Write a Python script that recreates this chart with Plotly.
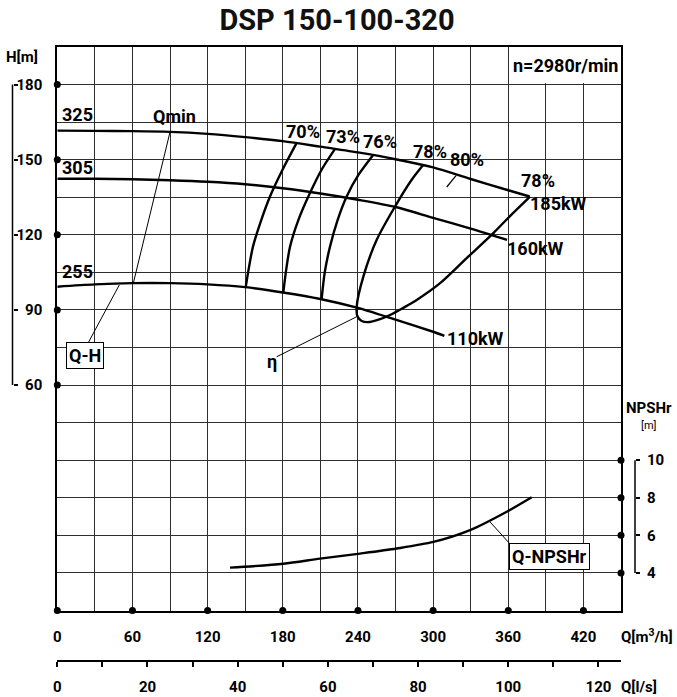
import plotly.graph_objects as go

# ---------------- data ----------------
# Q-H curves for impeller diameters 325 / 305 / 255 mm  (Q in m3/h, H in m)
q_325 = [0, 30, 60, 90, 120, 150, 180, 210, 240, 270, 300, 330, 360, 377]
h_325 = [161.6, 161.5, 161.4, 161.1, 160.3, 159.0, 157.4, 155.2, 152.9, 150.2, 146.9, 142.3, 137.8, 135.3]
q_305 = [0, 30, 60, 90, 120, 150, 180, 210, 240, 270, 300, 330, 359]
h_305 = [142.4, 142.4, 142.2, 141.8, 141.2, 140.2, 138.6, 136.5, 134.0, 131.1, 126.8, 122.5, 118.0]
q_255 = [0, 30, 60, 90, 120, 150, 180, 210, 240, 270, 300, 309]
h_255 = [99.3, 100.2, 100.7, 100.7, 100.2, 99.1, 97.0, 94.4, 90.8, 86.1, 81.3, 79.7]

# iso-efficiency curves
q_eff70 = [150.4, 153, 156.2, 162.2, 169.8, 179.8, 191.1]
h_eff70 = [99.1, 107, 115.3, 125, 135.3, 146, 156.7]
q_eff73 = [180.4, 182.7, 185.8, 192.5, 201.7, 211, 221.7]
h_eff73 = [96.9, 106, 115.3, 126, 136.7, 146, 154.3]
q_eff76 = [211, 213.5, 217.7, 223.5, 231, 240.5, 252.3]
h_eff76 = [94.3, 105, 115.3, 125.5, 135.3, 144, 152]
q_eff78 = [292.2, 282.9, 269.6, 255, 244.3, 239, 239.6, 243, 249.6, 257, 265.6, 276,
           286.9, 305.6, 326.8, 348.1, 363, 377.4]
h_eff78 = [148, 142, 131.3, 118, 103.3, 91.3, 87.5, 85.6, 85.2, 86.2, 88, 90.8,
           94, 100.7, 110.7, 120.7, 128.3, 135.3]
q_eff80 = [310.9, 318.3]
h_eff80 = [139.1, 143.6]

# Q-NPSHr curve
q_npsh = [137.9, 180.4, 209.7, 241.6, 270.9, 300.2, 329.5, 358.8, 378.7]
npsh = [4.28, 4.49, 4.76, 5.03, 5.30, 5.65, 6.28, 7.26, 8.03]

# leader lines
q_lead_qmin, h_lead_qmin = [90, 60.7], [161.1, 100.7]
q_lead_qh, h_lead_qh = [24.7, 49.5], [76.9, 100.0]
q_lead_eta, h_lead_eta = [175.1, 239.0], [71.3, 87.3]
q_lead_npsh, npsh_lead = [345.4, 364.0], [6.72, 5.35]

# axes / ticks
q_range = [0, 450]
h_range = [-30, 195]
npsh_range = [2, 32]
qls_range = [0, 125]
q_ticks = list(range(0, 451, 30))
q_labels = [str(v) if v % 60 == 0 and v <= 420 else "" for v in q_ticks]
h_ticks = list(range(-30, 196, 15))
h_labels = [str(v) if 60 <= v <= 180 and v % 30 == 0 else "" for v in h_ticks]
h_dots = [60, 90, 120, 150, 180]
q_dots = [0, 60, 120, 180, 240, 300, 360, 420]
npsh_ticks = [4, 6, 8, 10]
qls_ticks = list(range(0, 121, 10))
qls_labels = [str(v) if v % 20 == 0 else "" for v in qls_ticks]

# ---------------- layout geometry ----------------
W, H = 677, 697
PX_L, PX_R, PX_T, PX_B = 57.3, 621.0, 47.0, 610.5
xd = [PX_L / W, PX_R / W]
yd = [1 - PX_B / H, 1 - PX_T / H]
X_LEFT_BRACKET = 12.5 / W
X_RIGHT_BRACKET = 635 / W

FONT = "Roboto, Liberation Sans, sans-serif"
BIG = dict(family=FONT, size=18, color="black", weight="bold")
AX = dict(family=FONT, size=15, color="black", weight="bold")
GRID = "#2e2e2e"

fig = go.Figure()

LW = 2.4
for qx, hy in [(q_325, h_325), (q_305, h_305), (q_255, h_255),
               (q_eff70, h_eff70), (q_eff73, h_eff73), (q_eff76, h_eff76),
               (q_eff78, h_eff78)]:
    fig.add_trace(go.Scatter(x=qx, y=hy, mode="lines",
                             line=dict(color="black", width=LW, shape="spline", smoothing=0.8),
                             hoverinfo="skip", showlegend=False))
fig.add_trace(go.Scatter(x=q_eff80, y=h_eff80, mode="lines", line=dict(color="black", width=1.2),
                         showlegend=False, hoverinfo="skip"))
for qx, hy in [(q_lead_qmin, h_lead_qmin), (q_lead_qh, h_lead_qh), (q_lead_eta, h_lead_eta)]:
    fig.add_trace(go.Scatter(x=qx, y=hy, mode="lines", line=dict(color="black", width=1),
                             showlegend=False, hoverinfo="skip"))

fig.add_trace(go.Scatter(x=q_npsh, y=npsh, yaxis="y2", mode="lines",
                         line=dict(color="black", width=LW, shape="spline", smoothing=0.8),
                         showlegend=False, hoverinfo="skip"))
fig.add_trace(go.Scatter(x=q_lead_npsh, y=npsh_lead, yaxis="y2", mode="lines",
                         line=dict(color="black", width=1), showlegend=False, hoverinfo="skip"))

# dots on the frame
fig.add_trace(go.Scatter(x=[q_range[0]] * len(h_dots), y=h_dots, yaxis="y3", mode="markers",
                         marker=dict(color="black", size=7), cliponaxis=False,
                         showlegend=False, hoverinfo="skip"))
fig.add_trace(go.Scatter(x=q_dots, y=[h_range[0]] * len(q_dots), mode="markers",
                         marker=dict(color="black", size=7), cliponaxis=False,
                         showlegend=False, hoverinfo="skip"))
fig.add_trace(go.Scatter(x=[q_range[1]] * len(npsh_ticks), y=npsh_ticks, yaxis="y2", mode="markers",
                         marker=dict(color="black", size=7), cliponaxis=False,
                         showlegend=False, hoverinfo="skip"))
# empty trace that registers the l/s axis
fig.add_trace(go.Scatter(x=[None], y=[None], xaxis="x2", mode="markers",
                         showlegend=False, hoverinfo="skip"))

fig.update_layout(
    width=W, height=H,
    margin=dict(l=0, r=0, t=0, b=0, pad=0, autoexpand=False),
    paper_bgcolor="white", plot_bgcolor="white",
    showlegend=False,
    title=dict(text="DSP 150-100-320", x=337 / W, xanchor="center", y=1 - 20 / H, yanchor="middle",
               font=dict(family="Roboto, DejaVu Sans, sans-serif", size=29, color="#111", weight="bold")),
    xaxis=dict(domain=xd, range=q_range, tickvals=q_ticks, ticktext=q_labels, ticks="",
               showgrid=True, gridcolor=GRID, gridwidth=1, zeroline=False,
               showline=True, linecolor="black", linewidth=2, mirror=True, automargin=False,
               tickfont=AX, ticklabelstandoff=11, fixedrange=True),
    yaxis=dict(domain=yd, range=h_range, tickvals=h_ticks, ticktext=h_labels, ticks="",
               showgrid=True, gridcolor=GRID, gridwidth=1, zeroline=False,
               showline=True, linecolor="black", linewidth=2, mirror=True, automargin=False,
               tickfont=AX, ticklabelstandoff=10, fixedrange=True),
    # NPSH axis: its ticks/labels sit beside the right bracket
    yaxis2=dict(overlaying="y", range=npsh_range, side="right", anchor="free",
                position=X_RIGHT_BRACKET, showgrid=False, zeroline=False, showline=False,
                ticks="outside", ticklen=4, tickwidth=1.5, tickcolor="black",
                tickvals=npsh_ticks, tickfont=AX, ticklabelstandoff=4,
                automargin=False, fixedrange=True),
    # left bracket ticks (same scale as H)
    yaxis3=dict(overlaying="y", range=h_range, side="right", anchor="free",
                position=X_LEFT_BRACKET, showgrid=False, zeroline=False, showline=False,
                ticks="outside", ticklen=4, tickwidth=1.5, tickcolor="black",
                tickvals=h_dots, showticklabels=False, automargin=False, fixedrange=True),
    # l/s axis
    xaxis2=dict(overlaying="x", range=qls_range, anchor="free", position=1 - 661 / H, side="bottom",
                showline=True, linecolor="black", linewidth=2, ticks="outside", ticklen=5,
                tickwidth=1.5, tickcolor="black", tickvals=qls_ticks, ticktext=qls_labels,
                tickfont=AX, ticklabelstandoff=7, showgrid=False, zeroline=False,
                automargin=False, fixedrange=True),
)

# white box behind speed label
fig.add_shape(type="rect", xref="x", yref="y", x0=361, x1=q_range[1], y0=180.6, y1=h_range[1],
              fillcolor="white", line=dict(width=0), layer="between")
# bracket lines of the two scales
fig.add_shape(type="line", xref="paper", yref="y", x0=X_LEFT_BRACKET, x1=X_LEFT_BRACKET,
              y0=h_dots[0], y1=h_dots[-1], line=dict(color="black", width=1.5))
fig.add_shape(type="line", xref="paper", yref="y2", x0=X_RIGHT_BRACKET, x1=X_RIGHT_BRACKET,
              y0=npsh_ticks[0], y1=npsh_ticks[-1], line=dict(color="black", width=1.5))


def ann(text, x, y, font=BIG, **kw):
    fig.add_annotation(text=text, x=x, y=y, xref="x", yref="y", showarrow=False, font=font, **kw)


ann("325", 15.8, 168)
ann("305", 16, 146.7)
ann("255", 16, 105.3)
ann("Qmin", 93.2, 167.3)
ann("70%", 196.4, 161.3)
ann("73%", 228.3, 159.3)
ann("76%", 257.6, 157.3)
ann("78%", 297.6, 153.3)
ann("80%", 326.8, 150)
ann("78%", 384, 141.5)
ann("185kW", 400, 132.7)
ann("160kW", 381.4, 114.7)
ann("110kW", 333.5, 78.7)
ann("η", 171.2, 69.3)
ann("n=2980r/min", 405.3, 187.6)
ann("Q-H", 22.4, 71.7, bordercolor="black", borderwidth=1, borderpad=2, bgcolor="white")
fig.add_annotation(text="Q-NPSHr", x=393, y=4.88, xref="x", yref="y2", showarrow=False,
                   font=BIG, bordercolor="black", borderwidth=1, borderpad=2, bgcolor="white")

for text, (px, py), f, anc in [
    ("H[m]", (22, 57), AX, "center"),
    ("NPSHr", (649, 408), AX, "center"),
    ("[m]", (649, 425), dict(family=FONT, size=11, color="black"), "center"),
    ("Q[m<sup>3</sup>/h]", (619, 636), AX, "left"),
    ("Q[l/s]", (619, 687), AX, "left"),
]:
    fig.add_annotation(text=text, x=px / W, y=1 - py / H, xref="paper", yref="paper",
                       showarrow=False, font=f, xanchor=anc, yanchor="middle")

fig.write_html("out.html", config={"displayModeBar": False},
               post_script="document.body.style.margin='0px';")
